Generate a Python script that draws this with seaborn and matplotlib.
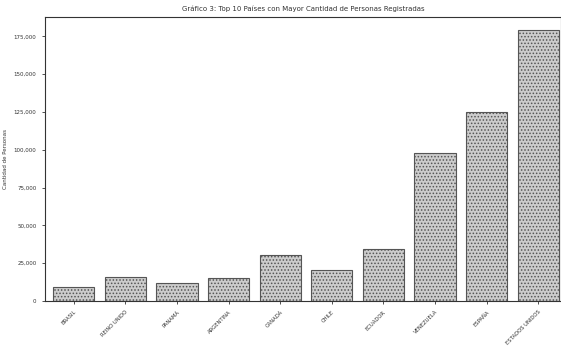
import matplotlib
matplotlib.use("Agg")
import matplotlib.pyplot as plt
import matplotlib.ticker as mticker
import seaborn as sns
import pandas as pd

paises = ["BRASIL", "REINO UNIDO", "PANAMÁ", "ARGENTINA", "CANADÁ", "CHILE",
          "ECUADOR", "VENEZUELA", "ESPAÑA", "ESTADOS UNIDOS"]
personas = [9400, 16000, 12000, 15200, 30200, 20800, 34200, 97900, 124700, 179000]

df = pd.DataFrame({"País": paises, "Cantidad de Personas": personas})

sns.set_theme(style="ticks")
plt.rcParams["font.family"] = ["DejaVu Sans"]
plt.rcParams["hatch.color"] = "#7a7a7a"
plt.rcParams["hatch.linewidth"] = 0.7

fig, ax = plt.subplots(figsize=(5.61, 3.5), dpi=100)
sns.barplot(data=df, x="País", y="Cantidad de Personas", color="#cccccc",
            edgecolor="#555555", linewidth=0.8, ax=ax, width=0.8)
for p in ax.patches:
    p.set_hatch(".....")

ax.set_title("Gráfico 3: Top 10 Países con Mayor Cantidad de Personas Registradas",
             fontsize=5, color="#333333", pad=4)
ax.set_xlabel("")
ax.set_ylabel("Cantidad de Personas", fontsize=4, color="#333333")
ax.set_xlim(-0.56, 9.44)
ax.yaxis.set_major_locator(mticker.MultipleLocator(25000))
ax.yaxis.set_major_formatter(mticker.FuncFormatter(lambda v, _: f"{int(v):,}"))
ax.tick_params(axis="y", labelsize=4, length=2.5, width=0.6, colors="#333333")
ax.tick_params(axis="x", labelsize=3.8, length=2.5, width=0.6, colors="#333333")
plt.setp(ax.get_xticklabels(), rotation=45, ha="right", rotation_mode="anchor")
for s in ax.spines.values():
    s.set_linewidth(0.8)
    s.set_color("#333333")

fig.subplots_adjust(left=0.08, right=1.0, top=0.952, bottom=0.14)
fig.savefig("out.png", dpi=100)
